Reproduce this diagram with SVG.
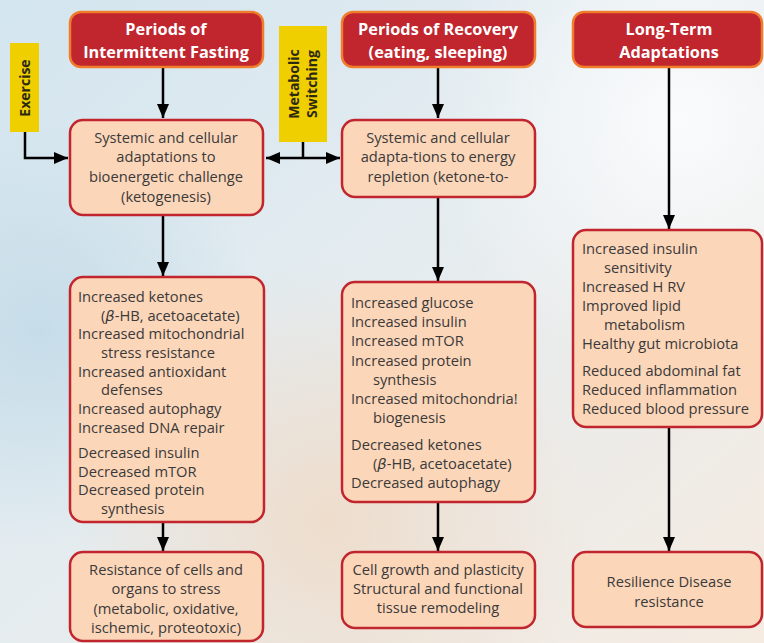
<svg xmlns="http://www.w3.org/2000/svg" width="764" height="643" viewBox="0 0 764 643">
<defs>
<linearGradient id="bg" x1="0" y1="0" x2="1" y2="1">
<stop offset="0" stop-color="#d3e5ef"/>
<stop offset="0.45" stop-color="#e4ecf0"/>
<stop offset="1" stop-color="#f5ebe1"/>
</linearGradient>
<radialGradient id="warm" cx="330" cy="520" r="260" gradientUnits="userSpaceOnUse">
<stop offset="0" stop-color="#efd9c4" stop-opacity="0.8"/>
<stop offset="1" stop-color="#efd9c4" stop-opacity="0"/>
</radialGradient>
<radialGradient id="white" cx="680" cy="120" r="260" gradientUnits="userSpaceOnUse">
<stop offset="0" stop-color="#fbfcfd" stop-opacity="0.95"/>
<stop offset="1" stop-color="#fbfcfd" stop-opacity="0"/>
</radialGradient>
<radialGradient id="blue" cx="40" cy="330" r="220" gradientUnits="userSpaceOnUse">
<stop offset="0" stop-color="#c3dbe8" stop-opacity="0.9"/>
<stop offset="1" stop-color="#c3dbe8" stop-opacity="0"/>
</radialGradient>
<marker id="ah" viewBox="0 0 14 12" refX="14" refY="6" markerWidth="14" markerHeight="12" markerUnits="userSpaceOnUse" orient="auto-start-reverse">
<path d="M0,0 L14,6 L0,12 z" fill="#000"/>
</marker>
<style>
.hdr{fill:#c1252e;stroke:#f07d2c;stroke-width:2.5}
.box{fill:#fcd6b9;stroke:#c1252e;stroke-width:2.5}
.tag{fill:#f0cf00}
.ht{font-family:"Open Sans","Liberation Sans",sans-serif;font-weight:bold;font-size:16.3px;fill:#fff;text-anchor:middle}
.t{font-family:"Open Sans","Liberation Sans",sans-serif;font-size:14.7px;fill:#3a3a3a}
.c{text-anchor:middle}
.tt{font-family:"Open Sans","Liberation Sans",sans-serif;font-weight:bold;font-size:14px;fill:#2e2a10;text-anchor:middle}
.cn{fill:none;stroke:#000;stroke-width:2.5}
</style>
</defs>
<rect width="764" height="643" fill="url(#bg)"/>
<rect width="764" height="643" fill="url(#blue)"/>
<rect width="764" height="643" fill="url(#warm)"/>
<rect width="764" height="643" fill="url(#white)"/>

<g id="connectors">
<path class="cn" d="M163,67 V118" marker-end="url(#ah)"/>
<path class="cn" d="M25,132 V158 H68" marker-end="url(#ah)"/>
<path class="cn" d="M303,142 V158"/>
<path class="cn" d="M266,158 H340" marker-start="url(#ah)" marker-end="url(#ah)"/>
<path class="cn" d="M163,215 V276" marker-end="url(#ah)"/>
<path class="cn" d="M163,522 V551" marker-end="url(#ah)"/>
<path class="cn" d="M438,67 V118" marker-end="url(#ah)"/>
<path class="cn" d="M438,197 V281" marker-end="url(#ah)"/>
<path class="cn" d="M438,502 V551" marker-end="url(#ah)"/>
<path class="cn" d="M669,67 V229" marker-end="url(#ah)"/>
<path class="cn" d="M669,427 V551" marker-end="url(#ah)"/>
</g>

<g id="hdr-fasting">
<rect class="hdr" x="70" y="12" width="193" height="55" rx="11"/>
<text class="ht" x="166" y="35">Periods of</text>
<text class="ht" x="166" y="58">Intermittent Fasting</text>
</g>
<g id="hdr-recovery">
<rect class="hdr" x="342" y="12" width="193" height="55" rx="11"/>
<text class="ht" x="438" y="35">Periods of Recovery</text>
<text class="ht" x="438" y="58">(eating, sleeping)</text>
</g>
<g id="hdr-longterm">
<rect class="hdr" x="573" y="12" width="189" height="55" rx="11"/>
<text class="ht" x="669" y="35">Long-Term</text>
<text class="ht" x="669" y="58">Adaptations</text>
</g>

<g id="exercise">
<rect class="tag" x="10" y="43" width="29" height="89"/>
<text class="tt" transform="translate(29.5,88) rotate(-90)">Exercise</text>
</g>
<g id="metabolic-switching">
<rect class="tag" x="279" y="26" width="48" height="116"/>
<text class="tt" transform="translate(298.5,84) rotate(-90)">Metabolic</text>
<text class="tt" transform="translate(316.5,84) rotate(-90)">Switching</text>
</g>

<g id="a1">
<rect class="box" x="70" y="120" width="193" height="95" rx="13"/>
<text class="t c" x="166" y="143">Systemic and cellular</text>
<text class="t c" x="166" y="162">adaptations to</text>
<text class="t c" x="166" y="182">bioenergetic challenge</text>
<text class="t c" x="166" y="202">(ketogenesis)</text>
</g>
<g id="b1">
<rect class="box" x="342" y="120" width="193" height="77" rx="13"/>
<text class="t c" x="438" y="143">Systemic and cellular</text>
<text class="t c" x="438" y="162">adapta-tions to energy</text>
<text class="t c" x="438" y="182">repletion (ketone-to-</text>
</g>

<g id="a2">
<rect class="box" x="70" y="277" width="194" height="245" rx="13"/>
<text class="t" x="78" y="302">Increased ketones</text>
<text class="t" x="101" y="320.7">(<tspan font-style="italic" font-family="'DejaVu Sans',sans-serif">β</tspan>-HB, acetoacetate)</text>
<text class="t" x="78" y="339.3">Increased mitochondrial</text>
<text class="t" x="101" y="358">stress resistance</text>
<text class="t" x="78" y="376.6">Increased antioxidant</text>
<text class="t" x="101" y="395.3">defenses</text>
<text class="t" x="78" y="414">Increased autophagy</text>
<text class="t" x="78" y="432.6">Increased DNA repair</text>
<text class="t" x="78" y="458">Decreased insulin</text>
<text class="t" x="78" y="476.7">Decreased mTOR</text>
<text class="t" x="78" y="495.3">Decreased protein</text>
<text class="t" x="101" y="514">synthesis</text>
</g>

<g id="b2">
<rect class="box" x="342" y="282" width="193" height="220" rx="13"/>
<text class="t" x="351" y="308">Increased glucose</text>
<text class="t" x="351" y="327.2">Increased insulin</text>
<text class="t" x="351" y="346.4">Increased mTOR</text>
<text class="t" x="351" y="365.6">Increased protein</text>
<text class="t" x="373" y="384.8">synthesis</text>
<text class="t" x="351" y="404">Increased mitochondria!</text>
<text class="t" x="373" y="423">biogenesis</text>
<text class="t" x="351" y="450">Decreased ketones</text>
<text class="t" x="373" y="469.2">(<tspan font-style="italic" font-family="'DejaVu Sans',sans-serif">β</tspan>-HB, acetoacetate)</text>
<text class="t" x="351" y="488.4">Decreased autophagy</text>
</g>

<g id="c1">
<rect class="box" x="573" y="230" width="189" height="197" rx="13"/>
<text class="t" x="582" y="254">Increased insulin</text>
<text class="t" x="604" y="273">sensitivity</text>
<text class="t" x="582" y="292">Increased H RV</text>
<text class="t" x="582" y="311">Improved lipid</text>
<text class="t" x="604" y="330">metabolism</text>
<text class="t" x="582" y="349">Healthy gut microbiota</text>
<text class="t" x="582" y="376">Reduced abdominal fat</text>
<text class="t" x="582" y="395">Reduced inflammation</text>
<text class="t" x="582" y="414">Reduced blood pressure</text>
</g>

<g id="a3">
<rect class="box" x="70" y="552" width="193" height="89" rx="13"/>
<text class="t c" x="166" y="575">Resistance of cells and</text>
<text class="t c" x="166" y="594">organs to stress</text>
<text class="t c" x="166" y="614">(metabolic, oxidative,</text>
<text class="t c" x="166" y="633">ischemic, proteotoxic)</text>
</g>
<g id="b3">
<rect class="box" x="342" y="552" width="193" height="76" rx="13"/>
<text class="t c" x="438" y="575">Cell growth and plasticity</text>
<text class="t c" x="438" y="594">Structural and functional</text>
<text class="t c" x="438" y="613">tissue remodeling</text>
</g>
<g id="c3">
<rect class="box" x="573" y="552" width="189" height="75" rx="13"/>
<text class="t c" x="669" y="587">Resilience Disease</text>
<text class="t c" x="669" y="607">resistance</text>
</g>
</svg>
